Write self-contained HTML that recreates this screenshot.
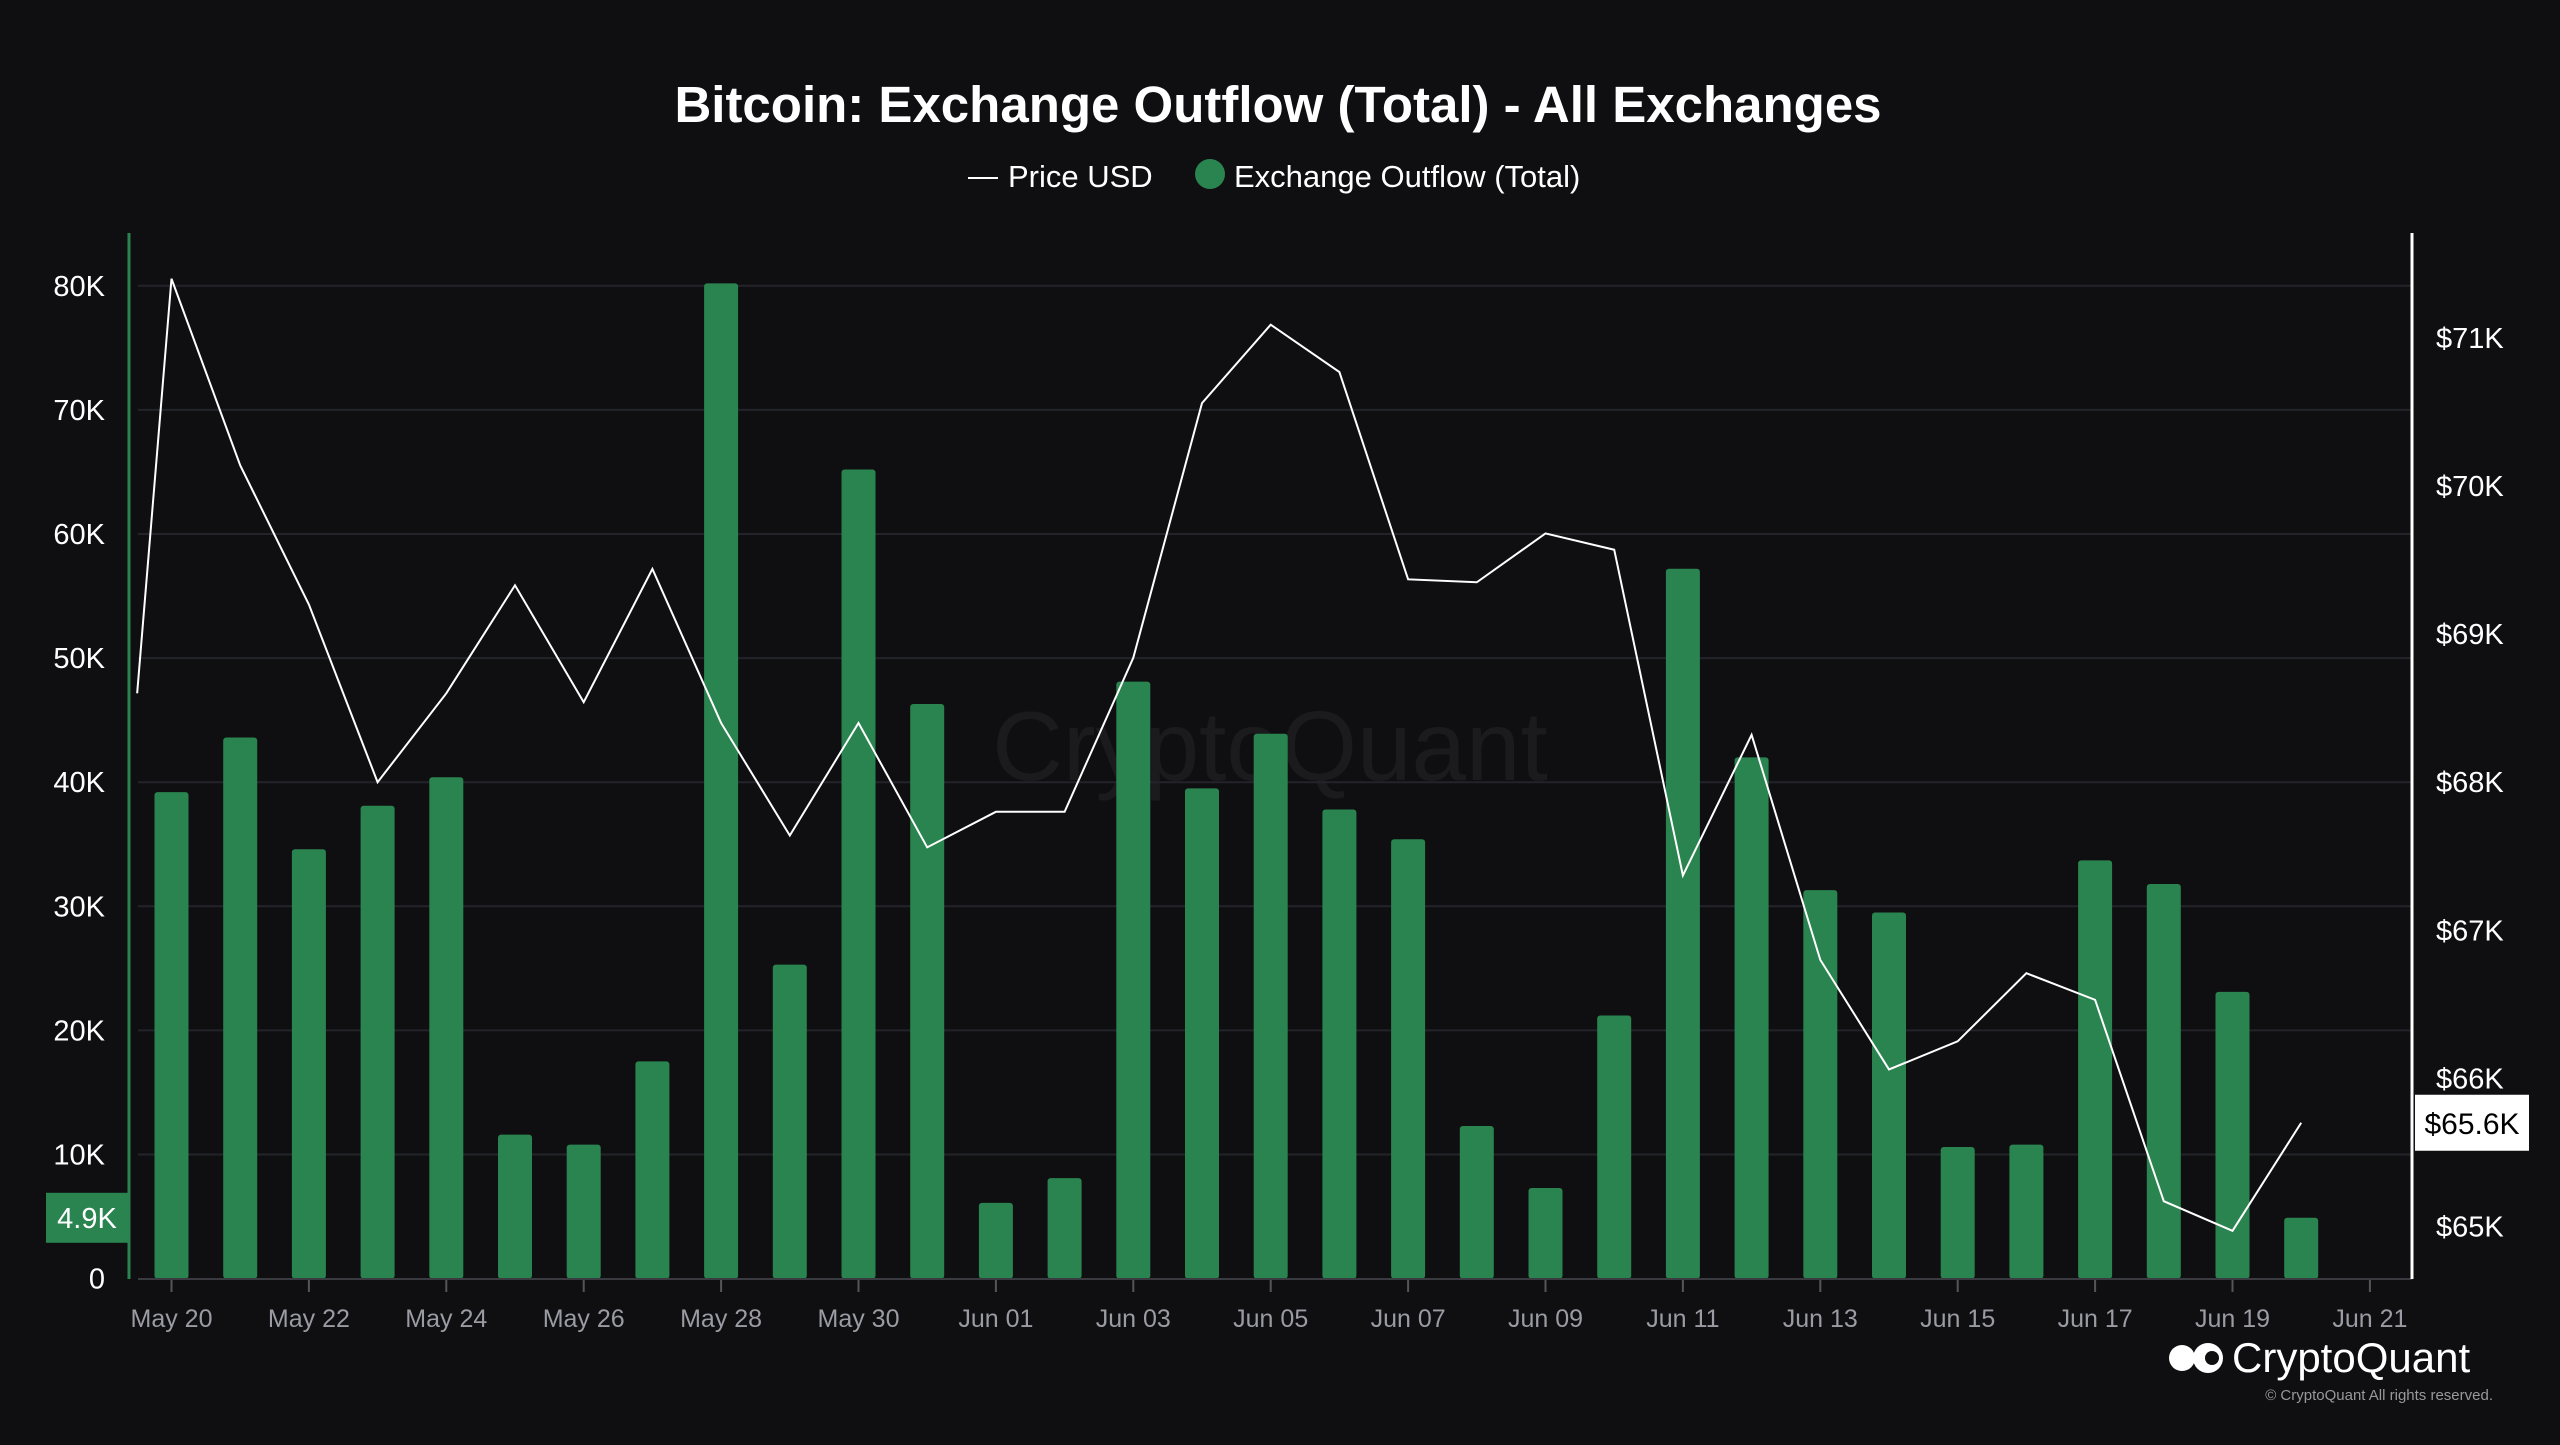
<!DOCTYPE html>
<html><head><meta charset="utf-8">
<style>
html,body{margin:0;padding:0;background:#0f0f12;}
body{width:2560px;height:1440px;overflow:hidden;font-family:"Liberation Sans",sans-serif;}
</style></head>
<body>
<svg id="chart" width="2560" height="1440" xmlns="http://www.w3.org/2000/svg" style="font-family:'Liberation Sans',sans-serif">
<rect width="2560" height="1440" fill="#0f0f12"/>
<text x="1278" y="122" fill="#fff" font-size="51" font-weight="bold" text-anchor="middle">Bitcoin: Exchange Outflow (Total) - All Exchanges</text>
<g>
<line x1="968" y1="178" x2="998" y2="178" stroke="#fff" stroke-width="2"/>
<text x="1008" y="187" fill="#fff" font-size="31">Price USD</text>
<circle cx="1210" cy="174" r="15" fill="#2a844f"/>
<text x="1234" y="187" fill="#fff" font-size="31">Exchange Outflow (Total)</text>
</g>
<text x="1270" y="780" fill="#fff" fill-opacity="0.05" font-size="98" text-anchor="middle">CryptoQuant</text>
<g id="grid"></g><g id="bars"></g><g id="line"></g><g id="axes"></g>
<g>
<circle cx="2182" cy="1358" r="13" fill="#fff"/><circle cx="2208" cy="1358" r="15" fill="#fff"/><circle cx="2212" cy="1358" r="7" fill="#0f0f12"/>
<text x="2232" y="1372" fill="#fff" font-size="42">CryptoQuant</text>
<text x="2493" y="1400" fill="#999" font-size="15" text-anchor="end">© CryptoQuant All rights reserved.</text>
</g>
</svg>
<script>
const dayOffsets=[0,1,2,3,4,5,6,7,8,9,10,11,12,13,14,15,16,17,18,19,20,21,22,23,24,25,26,27,28,29,30,31];
const outflow=[39.2,43.6,34.6,38.1,40.4,11.6,10.8,17.5,80.2,25.3,65.2,46.3,6.1,8.1,48.1,39.5,43.9,37.8,35.4,12.3,7.3,21.2,57.2,42.0,31.3,29.5,10.6,10.8,33.7,31.8,23.1,4.9];
const priceDays=[-0.5,0,1,2,3,4,5,6,7,8,9,10,11,12,13,14,15,16,17,18,19,20,21,22,23,24,25,26,27,28,29,30,31];
const price=[68.6,71.4,70.14,69.2,68.0,68.6,69.33,68.54,69.44,68.4,67.64,68.4,67.56,67.8,67.8,68.84,70.56,71.09,70.77,69.37,69.35,69.68,69.57,67.37,68.32,66.8,66.06,66.25,66.71,66.53,65.17,64.97,65.7];
const leftTicks=[0,10,20,30,40,50,60,70,80];
const leftTickLabels=["0","10K","20K","30K","40K","50K","60K","70K","80K"];
const rightTicks=[65,66,67,68,69,70,71];
const rightTickLabels=["$65K","$66K","$67K","$68K","$69K","$70K","$71K"];
const xTickDays=[0,2,4,6,8,10,12,14,16,18,20,22,24,26,28,30,32];
const xTickLabels=["May 20","May 22","May 24","May 26","May 28","May 30","Jun 01","Jun 03","Jun 05","Jun 07","Jun 09","Jun 11","Jun 13","Jun 15","Jun 17","Jun 19","Jun 21"];
const lastOutflowLabel="4.9K", lastPriceLabel="$65.6K";

const NS="http://www.w3.org/2000/svg";
const x=d=>171.5+d*68.7;
const yL=v=>1278.6-v*(1278.6-285.8)/80;
const yR=v=>1226.4-(v-65)*148.07;
function mk(tag,attrs,parent,txt){const e=document.createElementNS(NS,tag);for(const k in attrs)e.setAttribute(k,attrs[k]);if(txt!==undefined)e.textContent=txt;document.getElementById(parent).appendChild(e);return e;}

leftTicks.forEach((t,i)=>{
  if(t>0){const g=mk('line',{x1:138,x2:2412,y1:yL(t),y2:yL(t),stroke:'#23242a','stroke-width':2},'grid');
  
  }
  const l=mk('text',{x:105,y:yL(t)+10,fill:'#fff','font-size':29,'text-anchor':'end'},'axes',leftTickLabels[i]);
  
  
});
rightTicks.forEach((t,i)=>{
  const l=mk('text',{x:2436,y:yR(t)+10,fill:'#fff','font-size':29},'axes',rightTickLabels[i]);
  
  
});
outflow.forEach((v,i)=>{
  const b=mk('rect',{x:x(dayOffsets[i])-17,y:yL(v),width:34,height:yL(0)-yL(v),rx:3,fill:'#2a844f'},'bars');
  
  
});
const pl=mk('polyline',{points:price.map((p,i)=>x(priceDays[i])+','+yR(p)).join(' '),fill:'none',stroke:'#fff','stroke-width':2},'line');


const xa=mk('line',{x1:138,x2:2412,y1:1279,y2:1279,stroke:'#3a3b40','stroke-width':2},'axes');


xTickDays.forEach((d,i)=>{
  const t=mk('line',{x1:x(d),x2:x(d),y1:1280,y2:1292,stroke:'#555','stroke-width':2},'axes');
  
  
  const l=mk('text',{x:x(d),y:1327,fill:'#9a9ba3','font-size':25,'text-anchor':'middle'},'axes',xTickLabels[i]);
  
  
});
const la=mk('line',{x1:129,x2:129,y1:233,y2:1279,stroke:'#2a844f','stroke-width':3},'axes');


const ra=mk('line',{x1:2412,x2:2412,y1:233,y2:1279,stroke:'#fff','stroke-width':3},'axes');


const lv=outflow[outflow.length-1];
const b1=mk('rect',{x:46,y:yL(lv)-25,width:82,height:50,fill:'#2a844f'},'axes');


const t1=mk('text',{x:87,y:yL(lv)+10,fill:'#fff','font-size':29,'text-anchor':'middle'},'axes',lastOutflowLabel);


const pv=price[price.length-1];
const b2=mk('rect',{x:2415,y:yR(pv)-28,width:114,height:56,fill:'#fff'},'axes');


const t2=mk('text',{x:2472,y:yR(pv)+11,fill:'#000','font-size':30,'text-anchor':'middle'},'axes',lastPriceLabel);


</script>
</body></html>
